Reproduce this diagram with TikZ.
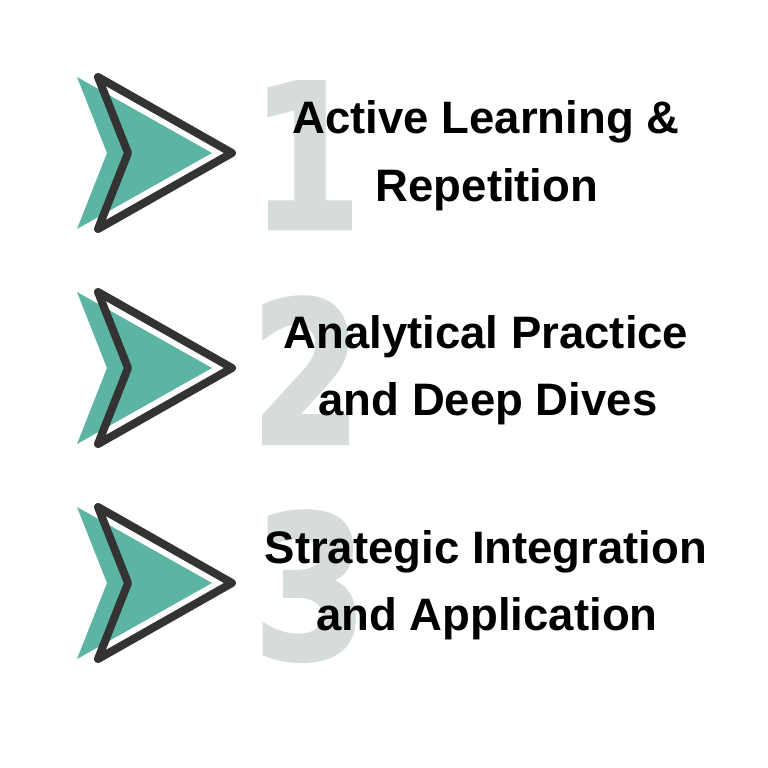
\documentclass[tikz,border=0pt]{standalone}
\usepackage{fontspec}
\setmainfont{Liberation Sans}
\newfontfamily\digitfont{DejaVu Sans Bold}[FakeBold=2]
\definecolor{teal1}{HTML}{5BB5A2}
\definecolor{dark1}{HTML}{333333}
\definecolor{digitgray}{HTML}{D6DBDB}
\begin{document}
\begin{tikzpicture}[x=1pt,y=-1pt,
  tealshape/.style={fill=teal1},
  outlineshape/.style={draw=dark1,line width=8pt,line join=round},
  digit/.style={inner sep=0pt,anchor=north west,text=digitgray},
  label/.style={inner sep=0pt,anchor=base,font=\bfseries\fontsize{45.5}{54}\selectfont,text=black}]
\useasboundingbox[fill=white] (0,0) rectangle (768,768);
\foreach \i/\yc in {1/153,2/368,3/583}{
  \fill[tealshape] (77,\yc-76) -- (212,\yc) -- (77,\yc+76) -- (107,\yc) -- cycle;
  \draw[outlineshape] (98,\yc-76) -- (232,\yc) -- (98,\yc+76) -- (128,\yc) -- cycle;
}
\node[digit] (d1) at (251,82) {\resizebox{110pt}{146pt}{\digitfont 1}};
\node[digit] (d2) at (251,297) {\resizebox{110pt}{146pt}{\digitfont 2}};
\node[digit] (d3) at (253,511) {\resizebox{114pt}{147pt}{\digitfont 3}};
\node[label] (t1a) at (486,133) {Active Learning \&};
\node[label] (t1b) at (487,201) {Repetition};
\node[label] (t2a) at (486,348) {Analytical Practice};
\node[label] (t2b) at (488,415) {and Deep Dives};
\node[label] (t3a) at (486,563) {Strategic Integration};
\node[label] (t3b) at (487,630) {and Application};
\end{tikzpicture}
\end{document}
